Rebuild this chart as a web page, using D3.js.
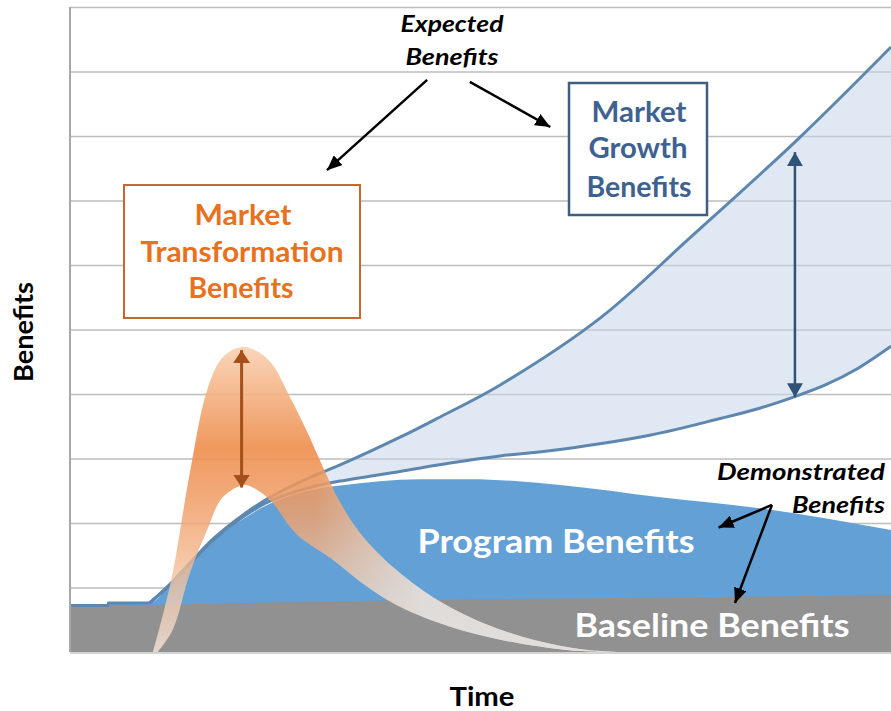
<!DOCTYPE html>
<html>
<head>
<meta charset="utf-8">
<script src="https://cdn.jsdelivr.net/npm/d3@7"></script>
<style>
  body { margin: 0; background: #fff; }
  text { font-family: Lato, "Open Sans", sans-serif; font-weight: bold; }
</style>
</head>
<body>
<script>

width = 891
height = 711

// time runs 0..100 across the plot, benefits 0..10 up the plot
baseline = [[0, 0.72], [9.7, 0.73], [28, 0.78], [60, 0.83], [100, 0.88]]
program = [[0, 0.72], [4.6, 0.72], [4.7, 0.76], [9.7, 0.76], [12.1, 1.02], [14.6, 1.36], [17.5, 1.72],
  [20.7, 2.03], [23.7, 2.26], [26.8, 2.42], [29.8, 2.52], [32.9, 2.58], [42.6, 2.68], [48.7, 2.68],
  [59.7, 2.59], [71.9, 2.40], [84.0, 2.23], [100, 1.89]]
growthLow = [[9.7, 0.76], [12.1, 1.03], [14.6, 1.37], [17.5, 1.74], [20.7, 2.06], [23.7, 2.30], [26.8, 2.46],
  [29.8, 2.57], [32.9, 2.65], [40.2, 2.80], [46.3, 2.93], [52.4, 3.04], [59.7, 3.14], [70.6, 3.36],
  [79.2, 3.62], [84.0, 3.78], [88.3, 3.96], [92.0, 4.14], [96.0, 4.40], [100, 4.74]]
growthHigh = [[9.7, 0.76], [12.1, 1.04], [14.6, 1.38], [17.5, 1.76], [20.7, 2.09], [23.7, 2.35], [26.8, 2.56],
  [29.8, 2.74], [32.9, 2.90], [40.2, 3.33], [44.7, 3.62], [52.4, 4.14], [64.6, 5.18], [75.5, 6.42],
  [88.9, 7.98], [100, 9.38]]
transOuter = [[10.1, 0], [11.3, 0.57], [12.5, 1.22], [14.6, 2.78], [16.7, 4.06], [18.6, 4.57], [20.9, 4.73],
  [23.1, 4.64], [24.7, 4.45], [26.8, 3.95], [28.9, 3.41], [30.8, 2.87], [32.9, 2.32], [35.3, 1.85],
  [39.3, 1.32], [44.2, 0.85], [50.3, 0.45], [56.4, 0.19], [62.5, 0.04], [67, 0]]
transInner = [[10.7, 0], [12.5, 0.34], [14.6, 1.22], [16.7, 1.89], [18.6, 2.40], [21.3, 2.59], [22.8, 2.51],
  [24.7, 2.31], [26.8, 1.94], [28.0, 1.78], [32.0, 1.43], [36.2, 1.01], [40.2, 0.70], [46.3, 0.39],
  [52.4, 0.19], [60.5, 0.03], [64.6, 0]]
gridValues = [0, 1, 2, 3, 4, 5, 6, 7, 8, 9, 10]

// arrows as [t1, v1, t2, v2] in chart units
expectedArrows = [[43.5, 8.87, 31.3, 7.47], [48.7, 8.84, 58.5, 8.14]]
demoArrows = [[85.5, 2.28, 79.0, 1.93], [85.5, 2.28, 81.0, 0.76]]
growthGap = [88.3, 7.75, 88.3, 3.95]
transGap = [20.9, 4.68, 20.9, 2.55]

var svg = d3.select("body").append("svg")
    .attr("width", width)
    .attr("height", height)

var x = d3.scaleLinear().domain([0, 100]).range([70, 891])
var y = d3.scaleLinear().domain([0, 10]).range([652, 7])

var defs = svg.append("defs")

function marker(id, color, w, l) {
  defs.append("marker")
      .attr("id", id)
      .attr("viewBox", "0 0 " + l + " " + w)
      .attr("refX", l)
      .attr("refY", w / 2)
      .attr("markerWidth", l)
      .attr("markerHeight", w)
      .attr("markerUnits", "userSpaceOnUse")
      .attr("orient", "auto-start-reverse")
    .append("path")
      .attr("d", "M0,0L" + l + "," + (w / 2) + "L0," + w + "Z")
      .attr("fill", color)
}
marker("headBlack", "#000", 13, 15)
marker("headBlue", "#2f5377", 16, 14)
marker("headOrange", "#a5501a", 17, 13)

var bandGrad = defs.append("linearGradient")
    .attr("id", "band")
    .attr("gradientUnits", "userSpaceOnUse")
    .attr("x1", 0).attr("x2", 0)
    .attr("y1", y(4.73)).attr("y2", y(0))
bandGrad.selectAll("stop")
  .data([[0, "#f9d2b4", 0.92], [0.33, "#ee8d4c", 0.9], [0.55, "#f0a06a", 0.82], [0.8, "#f3c8a8", 0.78], [1, "#f4e4da", 0.82]])
  .enter().append("stop")
    .attr("offset", function(d) { return d[0]; })
    .attr("stop-color", function(d) { return d[1]; })
    .attr("stop-opacity", function(d) { return d[2]; })

var tailGrad = defs.append("linearGradient")
    .attr("id", "tail")
    .attr("gradientUnits", "userSpaceOnUse")
    .attr("y1", 0).attr("y2", 0)
    .attr("x1", x(30)).attr("x2", x(43))
tailGrad.append("stop").attr("offset", 0).attr("stop-color", "#dcdcdc").attr("stop-opacity", 0)
tailGrad.append("stop").attr("offset", 1).attr("stop-color", "#e0e0e0").attr("stop-opacity", 0.85)

// grid
svg.append("g")
    .attr("transform", "translate(" + x(0) + ",0)")
    .call(d3.axisLeft(y).tickValues(gridValues).tickSize(-(x(100) - x(0))).tickFormat(""))
    .call(function(g) {
      g.select(".domain").remove()
      g.selectAll(".tick line").attr("stroke", "#bdbdbd").attr("stroke-width", 1.6)
    })

var line = d3.line()
    .x(function(d) { return x(d[0]); })
    .y(function(d) { return y(d[1]); })
    .curve(d3.curveCatmullRom)

function band(top, bottom) {
  return line(top) + "L" + line(bottom.slice().reverse()).slice(1) + "Z"
}

// expected growth band
svg.append("path")
    .attr("d", band(growthHigh, growthLow))
    .attr("fill", "#c4d6ea")
    .attr("fill-opacity", 0.55)

var area = d3.area()
    .x(function(d) { return x(d[0]); })
    .y0(y(0))
    .y1(function(d) { return y(d[1]); })
    .curve(d3.curveMonotoneX)

svg.append("path").datum(program).attr("d", area).attr("fill", "#63a0d6")
svg.append("path").datum(baseline).attr("d", area).attr("fill", "#919191")

svg.append("path").datum(program.slice(0, 4))
    .attr("d", d3.line().x(function(d) { return x(d[0]); }).y(function(d) { return y(d[1]); }))
    .attr("fill", "none").attr("stroke", "#5e87b0").attr("stroke-width", 3)
svg.selectAll(".growth")
  .data([growthLow, growthHigh])
  .enter().append("path")
    .attr("class", "growth")
    .attr("d", line)
    .attr("fill", "none")
    .attr("stroke", "#5e87b0")
    .attr("stroke-width", 3)

// market transformation band
var transPath = band(transOuter, transInner)
svg.append("path").attr("d", transPath).attr("fill", "url(#band)")
svg.append("path").attr("d", transPath).attr("fill", "url(#tail)")

// axes lines
svg.append("line")
    .attr("x1", x(0)).attr("x2", x(0)).attr("y1", y(10)).attr("y2", y(0))
    .attr("stroke", "#a8a8a8").attr("stroke-width", 2)
svg.append("line")
    .attr("x1", x(0)).attr("x2", x(100)).attr("y1", y(0) + 1).attr("y2", y(0) + 1)
    .attr("stroke", "#d4d4d4").attr("stroke-width", 2)

function arrow(a, color, w, head, both) {
  var p = svg.append("line")
      .attr("x1", x(a[0])).attr("y1", y(a[1]))
      .attr("x2", x(a[2])).attr("y2", y(a[3]))
      .attr("stroke", color)
      .attr("stroke-width", w)
      .attr("marker-end", "url(#" + head + ")")
  if (both) p.attr("marker-start", "url(#" + head + ")")
}
expectedArrows.forEach(function(a) { arrow(a, "#000", 2.5, "headBlack") })
demoArrows.forEach(function(a) { arrow(a, "#000", 2.5, "headBlack") })
arrow(growthGap, "#2f5377", 2.5, "headBlue", true)
arrow(transGap, "#a5501a", 3, "headOrange", true)

// boxes
svg.append("rect")
    .attr("x", 124).attr("y", 185).attr("width", 236).attr("height", 133)
    .attr("fill", "#fff").attr("stroke", "#c6682d").attr("stroke-width", 2)
svg.append("rect")
    .attr("x", 569).attr("y", 83).attr("width", 138).attr("height", 132)
    .attr("fill", "#fff").attr("stroke", "#3f5f82").attr("stroke-width", 2.5)

function label(txt, cx, by, size, len, color, italic, anchor) {
  var t = svg.append("text")
      .attr("x", cx).attr("y", by)
      .attr("text-anchor", anchor || "middle")
      .attr("font-size", size)
      .attr("fill", color)
      .attr("textLength", len)
      .attr("lengthAdjust", "spacingAndGlyphs")
      .text(txt)
  if (italic) t.attr("font-style", "italic")
  return t
}

label("Market", 243, 225, 28, 97, "#e8711e")
label("Transformation", 242, 262, 28, 203, "#e8711e")
label("Benefits", 241, 298, 28, 105, "#e8711e")

label("Market", 639, 122, 28, 95, "#3d6191")
label("Growth", 638, 158, 28, 99, "#3d6191")
label("Benefits", 639, 197, 28, 105, "#3d6191")

label("Expected", 452, 32, 23, 103, "#000", true)
label("Benefits", 452, 65, 23, 93, "#000", true)
label("Demonstrated", 885, 480, 23, 168, "#000", true, "end")
label("Benefits", 885, 513, 23, 93, "#000", true, "end")

label("Program Benefits", 556, 553, 32, 277, "#fff")
label("Baseline Benefits", 712, 637, 33, 275, "#fff")

label("Time", 482, 706, 26, 65, "#000")
svg.append("text")
    .attr("transform", "translate(33,332) rotate(-90)")
    .attr("text-anchor", "middle")
    .attr("font-size", 26)
    .attr("textLength", 100)
    .attr("lengthAdjust", "spacingAndGlyphs")
    .text("Benefits")

</script>
</body>
</html>
